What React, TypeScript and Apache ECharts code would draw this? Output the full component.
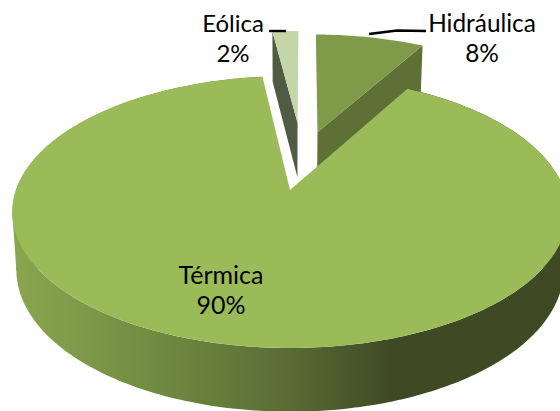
import React, { useEffect, useRef } from "react";
import * as echarts from "echarts";

const categories = ["Eólica", "Hidráulica", "Térmica"];
const values = [2, 8, 90];

const START_ANGLE = -6.7;
const K = 0.162;
const TOP = { x: 290, y: 190, a: 274, b: 132.4 };
const BOTTOM = { x: 290, y: 247, a: 270, b: 138 };
const OFFSETS = [
  [0.03, -0.551],
  [0.108, -0.47],
  [0, 0],
];
const RADII = [0.94, 0.98, 1];
const FACE = ["#c4d5a8", "#7f9a48", "#9bbb59"];
const CUT = ["#505b43", "#5e7035", "#5e7035"];
const LABEL_POS = [
  [233, 22],
  [482, 22],
  [221, 274],
];
const LABEL_SIZE = [24, 24.4, 25];
const LEADERS = [
  [[269, 31], [286, 31]],
  [[369, 34], [397, 30.5], [426, 31]],
  null,
];
const FONT = "Lato, sans-serif";

function project(p: typeof TOP, u: number, v: number): number[] {
  const d = 1 - K * v;
  return [p.x + (p.a * u) / d, p.y + (p.b * v) / d];
}

function arc(p: typeof TOP, o: number[], r: number, a0: number, a1: number): number[][] {
  const pts: number[][] = [];
  const n = Math.max(4, Math.ceil(Math.abs(a1 - a0)));
  for (let i = 0; i <= n; i++) {
    const t = ((a0 + ((a1 - a0) * i) / n) * Math.PI) / 180;
    pts.push(project(p, o[0] + r * Math.sin(t), o[1] - r * Math.cos(t)));
  }
  return pts;
}

function extreme(pts: number[][], sign: number): number[] {
  return pts.reduce((best, q) => (sign * q[0] > sign * best[0] ? q : best), pts[0]);
}

function renderItem(params: any, api: any) {
  const i = params.dataIndex;
  const total = values.reduce((s, x) => s + x, 0);
  const before = values.slice(0, i).reduce((s, x) => s + x, 0);
  const a0 = START_ANGLE + (before / total) * 360;
  const a1 = a0 + ((api.value(1) as number) / total) * 360;
  const o = OFFSETS[i];
  const r = RADII[i];
  const topApex = project(TOP, o[0], o[1]);
  const botApex = project(BOTTOM, o[0], o[1]);
  const topArc = arc(TOP, o, r, a0, a1);
  const botArc = arc(BOTTOM, o, r, a0, a1);
  const children: any[] = [];

  if (i === 2) {
    const fill = {
      type: "linear",
      x: 12,
      y: 0,
      x2: 560,
      y2: 0,
      global: true,
      colorStops: [
        { offset: 0, color: "#8ba64f" },
        { offset: 0.25, color: "#728c42" },
        { offset: 0.5, color: "#596d35" },
        { offset: 0.69, color: "#3f4a24" },
        { offset: 1, color: "#3f4a24" },
      ],
    };
    children.push({
      type: "polygon",
      shape: { points: [...topArc, ...botArc.slice().reverse()] },
      style: { fill },
    });
    [-1, 1].forEach((sign) => {
      children.push({
        type: "polygon",
        shape: { points: [extreme(topArc, sign), extreme(botArc, sign), botApex] },
        style: { fill },
      });
    });
  } else if (i === 0) {
    children.push({
      type: "polygon",
      shape: { points: [topArc[0], topApex, botApex, botArc[0]] },
      style: { fill: CUT[i] },
    });
  } else {
    const lastT = topArc[topArc.length - 1];
    const lastB = botArc[botArc.length - 1];
    children.push({
      type: "polygon",
      shape: { points: [lastT, topApex, botApex, lastB] },
      style: { fill: CUT[i] },
    });
  }

  children.push({
    type: "polygon",
    shape: { points: [topApex, ...topArc] },
    style: { fill: FACE[i] },
  });

  const leader = LEADERS[i];
  if (leader) {
    children.push({
      type: "polyline",
      shape: { points: leader },
      style: { stroke: "#000", lineWidth: 2.4, fill: "none" },
    });
  }

  children.push({
    type: "text",
    x: LABEL_POS[i][0],
    y: LABEL_POS[i][1],
    style: {
      text: `${categories[i]}\n${api.value(1)}%`,
      fill: "#000",
      fontSize: LABEL_SIZE[i],
      fontFamily: FONT,
      lineHeight: 30,
      align: "center",
      verticalAlign: "top",
      y: -15,
    },
  });

  return { type: "group", children };
}

export default function App() {
  const ref = useRef<HTMLDivElement>(null);
  useEffect(() => {
    const chart = echarts.init(ref.current!, undefined, { renderer: "svg" });
    chart.setOption({
      animation: false,
      series: [
        {
          type: "custom",
          coordinateSystem: "none",
          renderItem,
          clip: false,
          silent: true,
          data: categories.map((name, i) => ({ name, value: [i, values[i]] })),
        },
      ],
    });
    return () => chart.dispose();
  }, []);
  return (
    <div
      ref={ref}
      style={{ position: "fixed", left: 0, top: 0, width: 560, height: 411, background: "#fff" }}
    />
  );
}
